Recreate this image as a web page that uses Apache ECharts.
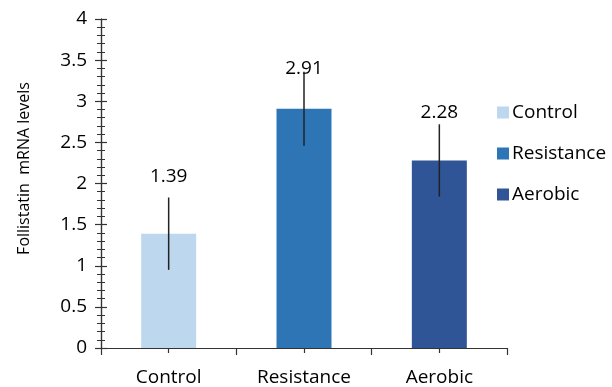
<!DOCTYPE html>
<html>
<head>
<meta charset="utf-8">
<script src="https://cdn.jsdelivr.net/npm/echarts@6/dist/echarts.min.js"></script>
<style>
  html, body { margin: 0; padding: 0; background: #fff; }
  #chart { width: 612px; height: 387px; }
</style>
</head>
<body>
<div id="chart"></div>
<script>
// data
const categories = ['Control', 'Resistance', 'Aerobic']
const values = [1.39, 2.91, 2.28]
const errors = [0.44, 0.45, 0.44]
const yTicks = [0, 0.5, 1, 1.5, 2, 2.5, 3, 3.5, 4]

const colors = ['#BDD7EE', '#2E75B6', '#2F5597']
const labelGap = [48, 31, 38]   // label offset above each bar
const font = 'Open Sans'
const axisColor = '#333'

const chart = echarts.init(document.getElementById('chart'))

// one series per group so the legend shows each one
const barSeries = categories.map((name, i) => ({
  name: name,
  type: 'bar',
  stack: 'all',
  barWidth: 55,
  itemStyle: {color: colors[i]},
  data: categories.map((c, j) => j === i ? {
    value: values[i],
    label: {
      show: true,
      position: 'top',
      distance: labelGap[i],
      color: '#000',
      fontFamily: font,
      fontSize: 19,
      formatter: (p) => p.value.toFixed(2)
    }
  } : null)
}))

const errSeries = {
  type: 'custom',
  z: 5,
  data: values.map((v, i) => [i, v - errors[i], v + errors[i]]),
  renderItem: (params, api) => {
    const lo = api.coord([api.value(0), api.value(1)])
    const hi = api.coord([api.value(0), api.value(2)])
    return {
      type: 'line',
      shape: {x1: lo[0], y1: lo[1], x2: hi[0], y2: hi[1]},
      style: {stroke: '#222', lineWidth: 1.5}
    }
  }
}

const hidden = {show: false}
const centerTick = (inside) => ({
  type: 'category',
  data: categories,
  position: 'bottom',
  offset: 0,
  axisLine: hidden,
  axisLabel: hidden,
  splitLine: hidden,
  axisTick: {show: true, alignWithLabel: true, inside: inside, length: 5,
    lineStyle: {color: axisColor, width: 1.2}}
})

const yBase = (inside, showLabel) => ({
  type: 'value',
  position: 'left',
  offset: 0,
  min: yTicks[0],
  max: yTicks[yTicks.length - 1],
  interval: 0.5,
  splitLine: hidden,
  axisLine: {show: true, lineStyle: {color: axisColor, width: 1.2}},
  axisTick: {show: true, inside: inside, length: 6, lineStyle: {color: axisColor, width: 1.2}},
  minorTick: {show: true, splitNumber: 5, length: 4, lineStyle: {color: axisColor, width: 1}},
  minorSplitLine: hidden,
  axisLabel: showLabel ? {
    show: true, margin: 14, color: '#000', fontFamily: font, fontSize: 19,
    formatter: (v) => String(v)
  } : hidden
})

chart.setOption({
  animation: false,
  grid: {left: 101, right: 105, top: 19, bottom: 39, containLabel: false},
  legend: {
    orient: 'vertical',
    left: 492,
    top: 98,
    itemWidth: 12,
    itemHeight: 12,
    itemGap: 22,
    icon: 'rect',
    textStyle: {fontFamily: font, fontSize: 19, color: '#000', padding: [0, 0, 0, -2]},
    data: categories
  },
  xAxis: [
    {
      type: 'category',
      data: categories,
      position: 'bottom',
      offset: 0,
      axisLine: {show: true, lineStyle: {color: axisColor, width: 1.2}},
      axisTick: {show: true, length: 7, lineStyle: {color: axisColor, width: 1.2}},
      axisLabel: {margin: 20, color: '#000', fontFamily: font, fontSize: 19},
      splitLine: hidden
    },
    centerTick(true),
    centerTick(false)
  ],
  yAxis: [
    Object.assign(yBase(false, true), {
      name: 'Follistatin  mRNA levels',
      nameLocation: 'middle',
      nameGap: 69,
      nameTextStyle: {fontFamily: font, fontSize: 16, color: '#000', padding: [0, 0, 0, 30]}
    }),
    yBase(true, false)
  ],
  series: barSeries.concat([errSeries])
})
</script>
</body>
</html>
